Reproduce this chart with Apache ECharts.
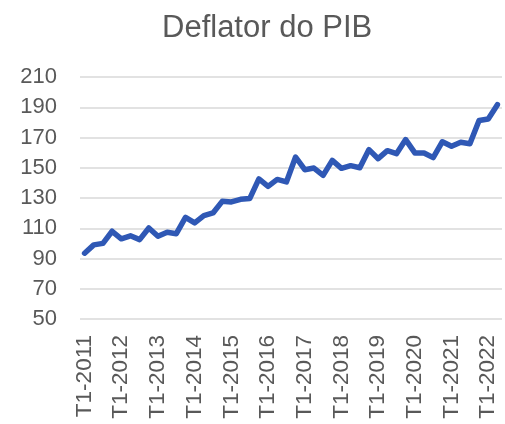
<!DOCTYPE html>
<html>
<head>
<meta charset="utf-8">
<script src="https://cdn.jsdelivr.net/npm/echarts@6/dist/echarts.min.js"></script>
<style>
  html, body { margin: 0; padding: 0; background: #fff; }
  #chart { width: 505px; height: 424px; }
</style>
</head>
<body>
<div id="chart"></div>
<script>
// quarters T1-2011 .. T2-2022
const years = [2011, 2012, 2013, 2014, 2015, 2016, 2017, 2018, 2019, 2020, 2021, 2022];
const quarters = [];
years.forEach((y) => {
    for (let q = 1; q <= 4; q++) {
        if (y === 2022 && q > 2) break;
        quarters.push('T' + q + '-' + y);
    }
});

const deflator = [
    93.5, 99, 100, 108, 103, 105, 102.5, 110.2, 104.7, 107.3, 106.4, 117.2,
    113.5, 118.3, 120.1, 127.8, 127.4, 129.1, 129.6, 142.6, 137.7, 142.3,
    140.6, 157.1, 148.7, 149.8, 145, 154.9, 149.6, 151.4, 150, 162,
    156, 161.3, 159.3, 168.6, 159.8, 159.8, 156.7, 167.2, 164.2, 166.8,
    165.9, 181.3, 182.2, 191.7
];

const yTicks = { min: 50, max: 210, interval: 20 };

const textColor = '#595959';
const fontFamily = '"Liberation Sans", Arial, sans-serif';

const myChart = echarts.init(document.getElementById('chart'));
myChart.setOption({
    animation: false,
    title: {
        text: 'Deflator do PIB',
        left: 157,
        top: 8,
        textStyle: {
            fontFamily: fontFamily,
            fontSize: 31,
            fontWeight: 'normal',
            color: textColor,
        },
    },
    grid: {
        left: 80,
        right: 3,
        top: 77,
        bottom: 105,
    },
    xAxis: {
        type: 'category',
        data: quarters,
        boundaryGap: true,
        axisLine: { show: false },
        axisTick: { show: false },
        axisLabel: {
            interval: 3,
            rotate: 90,
            margin: 16,
            fontFamily: fontFamily,
            fontSize: 22.5,
            color: textColor,
        },
    },
    yAxis: {
        type: 'value',
        min: yTicks.min,
        max: yTicks.max,
        interval: yTicks.interval,
        axisLine: { show: false },
        axisTick: { show: false },
        axisLabel: {
            margin: 23,
            fontFamily: fontFamily,
            fontSize: 22,
            color: textColor,
        },
        splitLine: {
            lineStyle: { color: '#d9d9d9', width: 1.5 },
        },
    },
    series: [{
        name: 'Deflator do PIB',
        type: 'line',
        data: deflator,
        symbol: 'none',
        lineStyle: { color: '#2F58B5', width: 5.5, join: 'round', cap: 'round' },
    }],
});
</script>
</body>
</html>
